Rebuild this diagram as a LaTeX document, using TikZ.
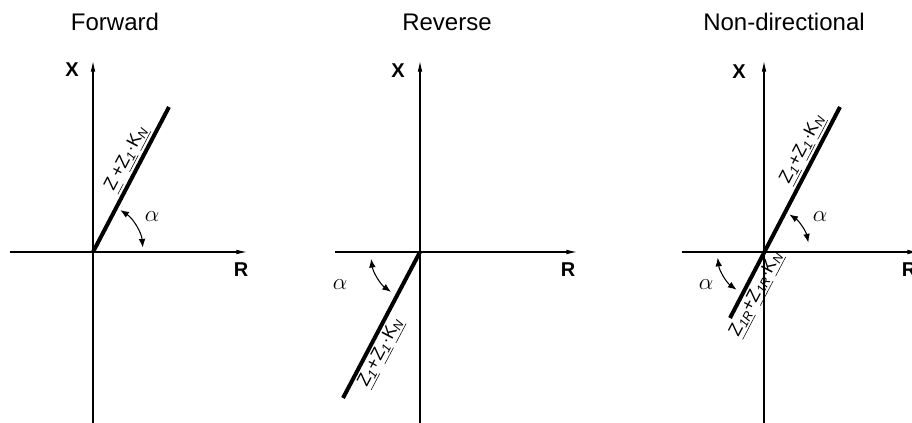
\documentclass[tikz,border=0pt]{standalone}
\usepackage{fontspec}
\setmainfont{Liberation Sans}
\usetikzlibrary{arrows.meta}
\newcommand{\imp}[2]{\underline{#1\textsubscript{\itshape #2}}}

\begin{document}
\begin{tikzpicture}[x=0.75pt,y=0.75pt,
  axis/.style={line width=0.8pt,-{Latex[length=8pt,width=3.5pt]}},
  char/.style={line width=3pt},
  angarc/.style={line width=0.8pt,{Latex[length=6.5pt,width=5pt]}-{Latex[length=6.5pt,width=5pt]}},
  title/.style={font=\fontsize{18}{22}\selectfont},
  axlbl/.style={font=\fontsize{15}{18}\selectfont\bfseries},
  imp/.style={font=\fontsize{13.5}{16}\selectfont,sloped,inner sep=1.5pt},
  ang/.style={font=\fontsize{16}{19}\selectfont}]
  \useasboundingbox (0,0) rectangle (912,423);
  \clip (0,0) rectangle (912,423);
  % forward
  \coordinate (o1) at (93,171);
  \coordinate (xa1) at (10,171);  \coordinate (xb1) at (247,171);
  \coordinate (ya1) at (93,0);    \coordinate (yb1) at (93,362);
  \coordinate (e1) at (169,316);
  \draw[axis] (xa1) -- (xb1);
  \draw[axis] (ya1) -- (yb1);
  \draw[char] (o1) -- node[imp,pos=0.6,above] (lz1) {\imp{Z}{}\,+\imp{Z}{1}$\cdot$\imp{K}{N}} (e1);
  \draw[angarc] ([shift={(57:37.5pt)}]o1) arc[start angle=57,end angle=5,radius=37.5pt];
  \node[title] (t1) at (115,401) {Forward};
  \node[axlbl] (x1) at (72,353) {X};
  \node[axlbl] (r1) at (241,153) {R};
  \node[ang] (a1) at (152,206) {$\alpha$};
  % reverse
  \coordinate (o2) at (420,171);
  \coordinate (xa2) at (335,171); \coordinate (xb2) at (577,171);
  \coordinate (ya2) at (420,0);   \coordinate (yb2) at (420,362);
  \coordinate (e2) at (343,25);
  \draw[axis] (xa2) -- (xb2);
  \draw[axis] (ya2) -- (yb2);
  \draw[char] (e2) -- node[imp,pos=0.35,below] (lz2) {\imp{Z}{1}+\imp{Z}{1}$\cdot$\imp{K}{N}} (o2);
  \draw[angarc] ([shift={(188:37pt)}]o2) arc[start angle=188,end angle=234,radius=37pt];
  \node[title] (t2) at (447,401) {Reverse};
  \node[axlbl] (x2) at (398,352) {X};
  \node[axlbl] (r2) at (568,153) {R};
  \node[ang] (a2) at (340,138) {$\alpha$};
  % non-directional
  \coordinate (o3) at (764,171);
  \coordinate (xa3) at (682,171); \coordinate (xb3) at (918,171);
  \coordinate (ya3) at (764,0);   \coordinate (yb3) at (764,362);
  \coordinate (s3) at (730,105);  \coordinate (e3) at (840,316);
  \draw[axis] (xa3) -- (xb3);
  \draw[axis] (ya3) -- (yb3);
  \draw[char] (s3) -- node[imp,pos=0.14,below] (lz3) {\imp{Z}{1R}+\imp{Z}{1R}$\cdot$\imp{K}{N}}
    node[imp,pos=0.77,above] (lz4) {\imp{Z}{1}+\imp{Z}{1}$\cdot$\imp{K}{N}} (e3);
  \draw[angarc] ([shift={(187:35pt)}]o3) arc[start angle=187,end angle=234,radius=35pt];
  \draw[angarc] ([shift={(56:34pt)}]o3) arc[start angle=56,end angle=12,radius=34pt];
  \node[title] (t3) at (784,401) {Non-directional};
  \node[axlbl] (x3) at (739,351) {X};
  \node[axlbl] (r3) at (909,153) {R};
  \node[ang] (a3) at (706,138) {$\alpha$};
  \node[ang] (a4) at (820,206) {$\alpha$};
\end{tikzpicture}
\end{document}
